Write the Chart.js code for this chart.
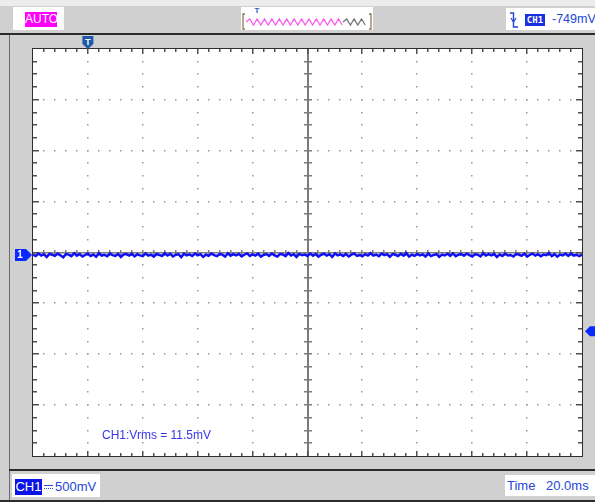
<!DOCTYPE html>
<html>
<head>
<meta charset="utf-8">
<script src="https://cdn.jsdelivr.net/npm/chart.js@4.4.1/dist/chart.umd.min.js"></script>
<style>
  html, body { margin: 0; padding: 0; }
  body { width: 595px; height: 502px; overflow: hidden; background: #d0d0d0;
         font-family: "Liberation Sans", Arial, sans-serif; }
  #scope { position: relative; width: 595px; height: 502px; }
  #scope > * { position: absolute; }
  canvas { left: 0; top: 0; z-index: 1; }
  .box { background: #fff; }
  .txt { color: #2347d8; font-size: 13px; white-space: nowrap; }
  .glyph { z-index: 2; color: #fff; font-weight: bold; text-align: center; }
</style>
</head>
<body>
<div id="scope">
  <!-- window chrome -->
  <div style="left:0;top:0;width:595px;height:6px;background:#ececec"></div>
  <div style="left:0;top:33px;width:595px;height:2px;background:#2b2b2b"></div>
  <div style="left:9px;top:35px;width:1px;height:467px;background:#6c6c6c"></div>
  <div style="left:9px;top:469px;width:586px;height:2px;background:#2b2b2b"></div>
  <div style="left:0;top:500px;width:595px;height:2px;background:#2b2b2b"></div>

  <!-- acquisition mode -->
  <div class="box" style="left:13px;top:7px;width:51px;height:23px"></div>
  <div style="left:25px;top:12px;width:32px;height:15px;background:#ff00ff;color:#fff;font-size:12px;line-height:15px;text-align:center">AUTO</div>

  <!-- memory position indicator -->
  <div class="box" style="left:241px;top:7px;width:132px;height:23px"></div>
  <svg id="memIcon" width="132" height="23" style="left:241px;top:7px"></svg>
  <div style="left:252px;top:6px;width:10px;font-size:8px;font-weight:bold;color:#2a62c0;text-align:center">T</div>

  <!-- trigger status -->
  <div class="box" style="left:506px;top:8px;width:89px;height:22px"></div>
  <svg width="12" height="22" style="left:507px;top:8px">
    <path d="M3 5 H6.5 V19 H11" fill="none" stroke="#2347d8" stroke-width="1.4"/>
    <path d="M4 10 L6.5 14 L9 10" fill="none" stroke="#2347d8" stroke-width="1.2"/>
  </svg>
  <div style="left:525px;top:14px;width:20px;height:12px;background:#1a2fe0;color:#fff;font-size:9px;font-weight:bold;line-height:12px;text-align:center;font-family:'DejaVu Sans Mono',monospace">CH1</div>
  <div class="txt" style="left:552px;top:11px;line-height:16px;font-size:12.5px">-749mV</div>

  <!-- channel setting -->
  <div class="box" style="left:12px;top:474px;width:88px;height:23px"></div>
  <div style="left:15px;top:479px;width:27px;height:16px;background:#0a14e6;color:#fff;font-size:13px;line-height:16px;text-align:center">CH1</div>
  <div style="left:44px;top:485px;width:9px;height:1px;background:#2347d8"></div>
  <div style="left:44px;top:488px;width:9px;height:0;border-top:1px dotted #2347d8"></div>
  <div class="txt" style="left:55px;top:479px;line-height:16px">500mV</div>

  <!-- timebase -->
  <div class="box" style="left:505px;top:475px;width:90px;height:21px"></div>
  <div class="txt" style="left:507px;top:478px;line-height:16px">Time</div>
  <div class="txt" style="left:546px;top:478px;line-height:16px">20.0ms</div>

  <!-- measurement -->
  <div style="left:102px;top:428px;z-index:2;color:#3535ee;font-size:12px;line-height:15px;white-space:nowrap">CH1:Vrms = 11.5mV</div>

  <div id="tGlyph" class="glyph" style="font-size:9px;width:11px;line-height:10px">T</div>
  <div id="gGlyph" class="glyph" style="font-size:10px;width:12px;line-height:12px">1</div>

  <canvas id="c" width="595" height="502"></canvas>
</div>

<script>
// Timebase: 20 ms/div over 10 divisions, trigger point at t = 0
const timeRange = [-20, 180];
const timeDiv = 20;
const timeSub = 5;
// CH1: 500 mV/div over 8 divisions, ground 25 mV below screen centre
const voltRange = [-1975, 2025];
const voltDiv = 500;
const voltSub = 4;
const groundLevel = 0;
const triggerLevel = -749;
const triggerTime = 0;
const sampleStep = 1; // ms between plotted samples

// CH1 samples in mV (ground-referenced noise)
const ch1 = [
  5,-10,15,-4,8,-18,11,3,-8,14,-3,-22,9,4,-11,18,-6,10,-14,1,
  13,-9,6,-16,20,-5,3,-11,15,-1,-8,11,-19,5,9,-4,14,-13,8,-3,
  -10,16,-6,4,-15,10,1,-9,19,-5,11,-14,3,8,-20,13,-4,6,-10,15,
  -3,9,-18,5,-8,14,-1,-11,10,4,-15,18,-6,8,-4,11,-13,3,16,-9,
  6,-5,13,-16,1,10,-8,15,-3,-14,9,5,-11,19,-4,8,-18,11,-1,4,
  -9,14,-6,10,-15,3,13,-5,8,-19,16,-3,6,-10,11,-14,4,15,-8,1,
  -13,9,-4,18,-6,5,-11,14,-1,8,-16,10,3,-9,13,-5,19,-15,4,-8,
  11,-3,6,-14,15,-10,1,9,-18,5,-4,13,-8,16,-11,3,10,-6,14,-1,
  -15,8,4,-13,18,-5,9,-3,11,-19,6,-9,15,-4,1,-14,10,5,-8,13,
  -16,3,14,-6,8,-11,4,-1,18,-10,9,-15,5,-3,13,-8,16,-5,3,-11,
  6
];

const points = ch1.map((v, i) => ({ x: timeRange[0] + i * sampleStep, y: v }));

// memory bar zig-zag icon
(function () {
  const svg = document.getElementById('memIcon');
  const ns = 'http://www.w3.org/2000/svg';
  function zig(x0, x1, color) {
    let d = 'M' + x0 + ' 15';
    let up = true;
    for (let x = x0 + 3.7; x <= x1; x += 3.7) { d += ' L' + x.toFixed(1) + ' ' + (up ? 12 : 18); up = !up; }
    const p = document.createElementNS(ns, 'path');
    p.setAttribute('d', d); p.setAttribute('fill', 'none');
    p.setAttribute('stroke', color); p.setAttribute('stroke-width', '1.2');
    svg.appendChild(p);
  }
  zig(5, 102, '#ff55ee');
  zig(102, 127, '#707070');
  const br = document.createElementNS(ns, 'path');
  br.setAttribute('d', 'M4 7 H2 V22 H4 M128 7 H130 V22 H128');
  br.setAttribute('fill', 'none'); br.setAttribute('stroke', '#8a7a5a'); br.setAttribute('stroke-width', '1.3');
  svg.appendChild(br);
})();

const graticule = {
  id: 'graticule',
  beforeDatasetsDraw(chart) {
    const { ctx, chartArea: a, scales: { x, y } } = chart;
    const w = a.right - a.left, h = a.bottom - a.top;
    ctx.save();
    ctx.fillStyle = '#ffffff';
    ctx.fillRect(a.left, a.top, w, h);

    const xc = (timeRange[0] + timeRange[1]) / 2;
    const yc = (voltRange[0] + voltRange[1]) / 2;
    const xStep = timeDiv / timeSub, yStep = voltDiv / voltSub;

    // dotted division lines
    ctx.fillStyle = '#999999';
    for (let t = timeRange[0] + timeDiv; t < timeRange[1]; t += timeDiv) {
      if (t === xc) continue;
      const px = Math.round(x.getPixelForValue(t));
      for (let v = voltRange[0] + yStep; v < voltRange[1]; v += yStep) {
        ctx.fillRect(px - 1, Math.round(y.getPixelForValue(v)) - 1, 1.5, 1.5);
      }
    }
    for (let v = voltRange[0] + voltDiv; v < voltRange[1]; v += voltDiv) {
      if (v === yc) continue;
      const py = Math.round(y.getPixelForValue(v));
      for (let t = timeRange[0] + xStep; t < timeRange[1]; t += xStep) {
        ctx.fillRect(Math.round(x.getPixelForValue(t)) - 1, py - 1, 1.5, 1.5);
      }
    }

    // centre axes with sub-division ticks
    ctx.fillStyle = '#7c7c7c';
    const cx = Math.round(x.getPixelForValue(xc));
    const cy = Math.round(y.getPixelForValue(yc));
    ctx.fillRect(cx - 1, a.top, 2, h);
    ctx.fillRect(a.left, cy - 1, w, 1.5);
    for (let v = voltRange[0] + yStep; v < voltRange[1]; v += yStep) {
      const py = Math.round(y.getPixelForValue(v));
      ctx.fillRect(cx - 4, py - 1, 8, 1.5);
    }
    for (let t = timeRange[0] + xStep; t < timeRange[1]; t += xStep) {
      const px = Math.round(x.getPixelForValue(t));
      ctx.fillRect(px - 1, cy - 3, 1.5, 6);
    }

    // edge ticks
    ctx.fillStyle = '#505050';
    for (let t = timeRange[0] + xStep; t < timeRange[1]; t += xStep) {
      const px = Math.round(x.getPixelForValue(t));
      const len = (Math.abs((t - timeRange[0]) % timeDiv) < 1e-6) ? 5 : 3;
      ctx.fillRect(px - 1, a.top, 1.5, len);
      ctx.fillRect(px - 1, a.bottom - len, 1.5, len);
    }
    for (let v = voltRange[0] + yStep; v < voltRange[1]; v += yStep) {
      const py = Math.round(y.getPixelForValue(v));
      const len = (Math.abs((v - voltRange[0]) % voltDiv) < 1e-6) ? 6 : 4;
      ctx.fillRect(a.left, py - 1, len, 1.5);
      ctx.fillRect(a.right - len, py - 1, len, 1.5);
    }
    ctx.restore();
  },
  afterDraw(chart) {
    const { ctx, chartArea: a, scales: { x, y } } = chart;
    ctx.save();
    // plot frame
    ctx.strokeStyle = '#2e2e2e';
    ctx.lineWidth = 1;
    ctx.strokeRect(a.left - 0.5, a.top - 0.5, a.right - a.left + 1, a.bottom - a.top + 1);

    // trigger position marker (top)
    const tx = x.getPixelForValue(triggerTime);
    ctx.fillStyle = '#1f5ca8';
    ctx.beginPath();
    ctx.moveTo(tx - 5.5, 36); ctx.lineTo(tx + 5.5, 36); ctx.lineTo(tx + 5.5, 44);
    ctx.lineTo(tx, 49); ctx.lineTo(tx - 5.5, 44); ctx.closePath(); ctx.fill();

    // ground reference marker (left)
    const gy = y.getPixelForValue(groundLevel);
    ctx.fillStyle = '#0a28ff';
    ctx.beginPath();
    ctx.moveTo(15, gy - 6); ctx.lineTo(26, gy - 6); ctx.lineTo(a.left - 1, gy);
    ctx.lineTo(26, gy + 6); ctx.lineTo(15, gy + 6); ctx.closePath(); ctx.fill();

    // trigger level marker (right)
    const ty = y.getPixelForValue(triggerLevel);
    ctx.beginPath();
    ctx.moveTo(585, ty); ctx.lineTo(590, ty - 5); ctx.lineTo(596, ty - 5);
    ctx.lineTo(596, ty + 5); ctx.lineTo(590, ty + 5); ctx.closePath(); ctx.fill();
    ctx.restore();

    const tg = document.getElementById('tGlyph');
    tg.style.left = (tx - 5.5) + 'px'; tg.style.top = '37px';
    const gg = document.getElementById('gGlyph');
    gg.style.left = '14px'; gg.style.top = (gy - 6) + 'px';
  }
};

new Chart(document.getElementById('c'), {
  type: 'line',
  data: {
    datasets: [{
      data: points,
      borderColor: '#1010f0',
      borderWidth: 2.5,
      pointRadius: 0,
      tension: 0
    }]
  },
  options: {
    responsive: false,
    animation: false,
    layout: { padding: { left: 33, right: 13, top: 49, bottom: 46 } },
    scales: {
      x: { type: 'linear', min: timeRange[0], max: timeRange[1], display: false },
      y: { type: 'linear', min: voltRange[0], max: voltRange[1], display: false }
    },
    plugins: { legend: { display: false }, tooltip: { enabled: false } }
  },
  plugins: [graticule]
});
</script>
</body>
</html>
